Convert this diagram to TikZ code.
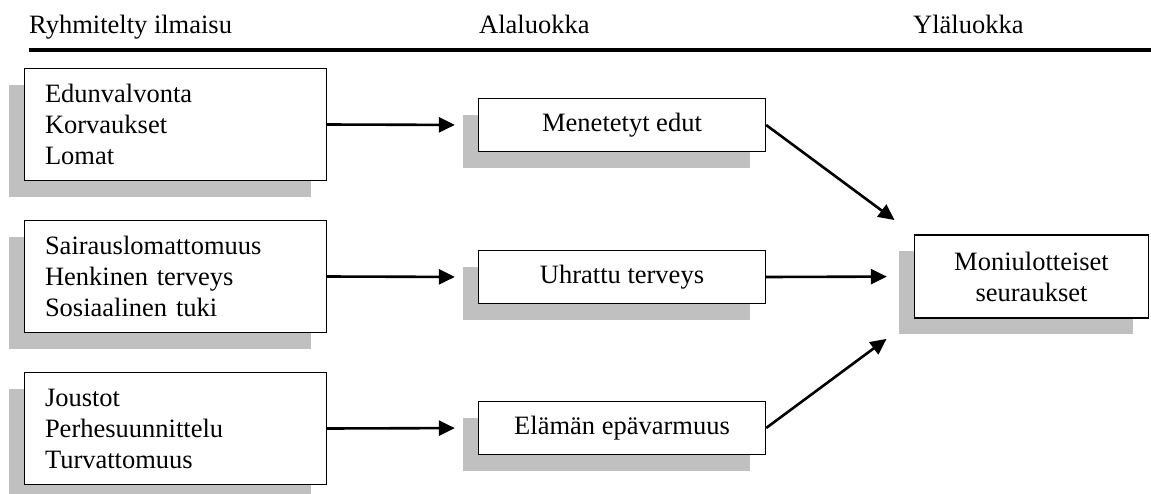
\documentclass[tikz,border=0pt]{standalone}
\usepackage{fontspec}
\setmainfont{Liberation Serif}
\usetikzlibrary{arrows.meta,shadows}
\definecolor{shadowgray}{HTML}{C0C0C0}
\begin{document}
\begin{tikzpicture}[x=1pt,y=-1pt,
  every node/.style={font=\fontsize{26.5}{31}\selectfont},
  boxbase/.style={draw=black, line width=1.3pt, fill=white, inner sep=0pt,
    drop shadow={opacity=1, fill=shadowgray, shadow xshift=-16pt, shadow yshift=-16pt}},
  listbox/.style={boxbase, minimum width=302pt, minimum height=112pt,
    text width=261pt, align=left},
  classbox/.style={boxbase, minimum width=287pt, minimum height=53pt, align=center},
  mainbox/.style={boxbase, minimum width=234pt, minimum height=83pt, align=center},
  head/.style={anchor=base west, inner sep=0pt},
  arr/.style={line width=2.6pt, -{Triangle[length=16pt,width=15pt]}}
]
\useasboundingbox (0,0) rectangle (1151,493);

% column headings and rule
\node[head] (h1) at (29,33) {Ryhmitelty ilmaisu};
\node[head] (h2) at (479,33) {Alaluokka};
\node[head] (h3) at (913,33) {Yläluokka};
\draw[line width=3.5pt] (29,50) -- (1151,50);

% grouped expressions
\node[listbox] (g1) at (175.5,124.5) {Edunvalvonta\\Korvaukset\\Lomat};
\node[listbox] (g2) at (175.5,276.5) {Sairauslomattomuus\\Henkinen terveys\\Sosiaalinen tuki};
\node[listbox] (g3) at (175.5,428.5) {Joustot\\Perhesuunnittelu\\Turvattomuus};

% subcategories
\node[classbox] (s1) at (622,125) {Menetetyt edut};
\node[classbox] (s2) at (622,277) {Uhrattu terveys};
\node[classbox] (s3) at (622,428) {Elämän epävarmuus};

% main category
\node[mainbox] (m) at (1031.5,276.5) {Moniulotteiset\\seuraukset};

% connectors
\draw[arr, shorten >=23pt] (g1.east) -- (s1.west);
\draw[arr, shorten >=23pt] (g2.east) -- (s2.west);
\draw[arr, shorten >=23pt] (g3.east) -- (s3.west);
\draw[arr, shorten >=24pt] (s1.east) -- (m.north west);
\draw[arr, shorten >=27pt] (s2.east) -- (m.west);
\draw[arr, shorten >=34pt] (s3.east) -- (m.south west);
\end{tikzpicture}
\end{document}
